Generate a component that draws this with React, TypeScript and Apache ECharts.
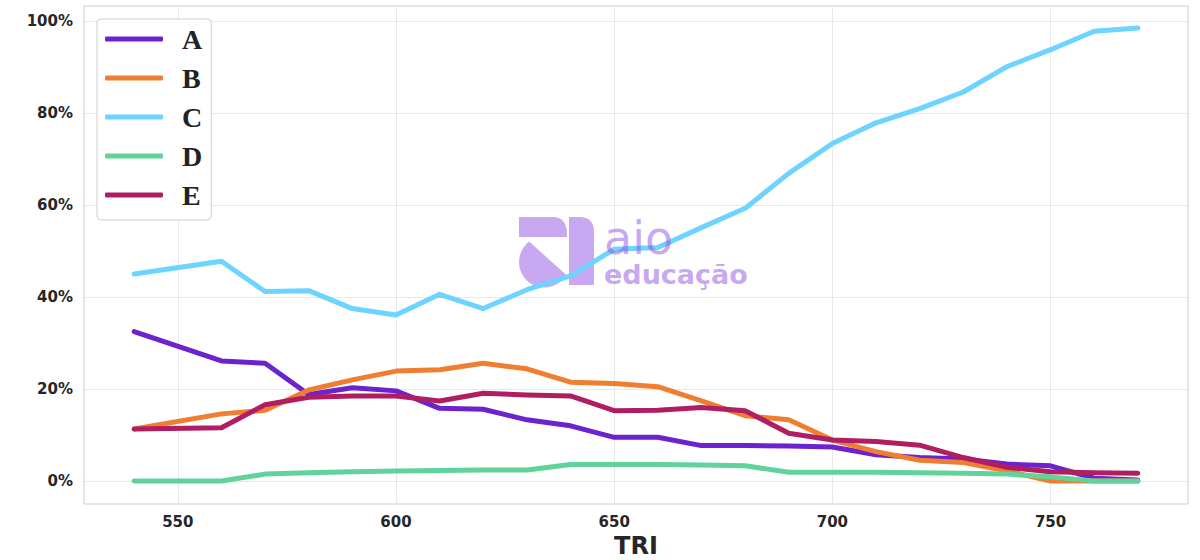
import React, { useEffect, useRef } from "react";
import * as echarts from "echarts";

const tri = [540, 560, 570, 580, 590, 600, 610, 620, 630, 640, 650, 660, 670, 680, 690, 700, 710, 720, 730, 740, 750, 760, 770];
const seriesA = [32.5, 26.1, 25.6, 18.8, 20.3, 19.6, 15.8, 15.6, 13.3, 12.0, 9.5, 9.5, 7.7, 7.7, 7.6, 7.4, 5.7, 5.1, 4.8, 3.7, 3.3, 0.6, 0.2];
const seriesB = [11.3, 14.6, 15.4, 19.8, 22.0, 23.9, 24.2, 25.6, 24.4, 21.5, 21.2, 20.5, 17.4, 14.2, 13.3, 8.9, 6.4, 4.5, 4.0, 2.2, 0.0, 0.0, 0.0];
const seriesC = [45.0, 47.8, 41.2, 41.4, 37.5, 36.1, 40.6, 37.5, 41.6, 44.6, 50.4, 50.8, 55.1, 59.3, 66.9, 73.4, 77.9, 81.0, 84.6, 90.1, 93.8, 97.8, 98.5];
const seriesD = [0.0, 0.0, 1.5, 1.8, 2.0, 2.2, 2.3, 2.4, 2.4, 3.6, 3.6, 3.6, 3.5, 3.3, 1.9, 1.9, 1.9, 1.8, 1.7, 1.5, 0.9, 0.0, 0.0];
const seriesE = [11.3, 11.6, 16.6, 18.2, 18.5, 18.5, 17.4, 19.1, 18.7, 18.5, 15.3, 15.4, 16.0, 15.3, 10.4, 8.9, 8.6, 7.8, 5.1, 3.0, 2.0, 1.8, 1.7];
const seriesNames = ["A", "B", "C", "D", "E"];
const xTicks = [550, 600, 650, 700, 750];
const yTicks = [0, 20, 40, 60, 80, 100];
const xLabel = "TRI";

const colors = ["#6C22CC", "#F07E31", "#6DD3FF", "#5FD39A", "#B01E62"];

const topPiece = "M0 0 L34 0 Q48 0 48 18 L48 20 L0 20 Z";
const barPiece = "M50 0 L60 0 Q75 0 75 15 L75 68 L50 68 Z";
const leafPiece =
  "M10.15 24.6 L47.4 58.1 C42.8 65.8 34.45 70.5 25.5 70.5 C11.4 70.5 0 59.1 0 45 C0 37 3.76 29.4 10.15 24.6 Z";

echarts.graphic.registerShape("aioTop", echarts.graphic.extendPath(topPiece, {}));
echarts.graphic.registerShape("aioBar", echarts.graphic.extendPath(barPiece, {}));
echarts.graphic.registerShape("aioLeaf", echarts.graphic.extendPath(leafPiece, {}));

const WM = "#8f51e3";

export default function App() {
  const ref = useRef<HTMLDivElement>(null);
  useEffect(() => {
    if (!ref.current) return;
    const chart = echarts.init(ref.current, undefined, { renderer: "svg" });
    const all = [seriesA, seriesB, seriesC, seriesD, seriesE];
    const wmStyle = { fill: WM, opacity: 0.5 };
    chart.setOption({
      animation: false,
      backgroundColor: "#ffffff",
      grid: {
        left: 84,
        right: 12,
        top: 6,
        bottom: 56,
        show: true,
        borderColor: "#cccccc",
        borderWidth: 1,
        backgroundColor: "transparent",
        outerBoundsMode: "none",
        containLabel: false,
      },
      legend: {
        left: 97,
        top: 19,
        orient: "vertical",
        icon: "roundRect",
        itemWidth: 58,
        itemHeight: 5,
        itemGap: 11,
        padding: [6, 9, 11, 8],
        backgroundColor: "#ffffff",
        borderColor: "#d0d0d0",
        borderWidth: 1,
        borderRadius: 4,
        textStyle: {
          fontFamily: "Liberation Serif",
          fontWeight: "bold",
          fontSize: 28,
          lineHeight: 26,
          color: "#222222",
          padding: [0, 0, 0, 14],
        },
        data: seriesNames,
      },
      xAxis: {
        type: "value",
        min: 528.5,
        max: 781.5,
        name: xLabel,
        nameLocation: "middle",
        nameGap: 30,
        nameTextStyle: {
          fontFamily: "DejaVu Sans",
          fontWeight: "bold",
          fontSize: 24,
          color: "#262626",
        },
        axisLine: { show: false },
        axisTick: { show: false, customValues: xTicks },
        axisLabel: {
          customValues: xTicks,
          margin: 10,
          fontFamily: "DejaVu Sans",
          fontWeight: "bold",
          fontSize: 15,
          color: "#262626",
        },
        splitLine: { show: true, lineStyle: { color: "#e8e8e8", width: 1 } },
      },
      yAxis: {
        type: "value",
        min: -5,
        max: 103.3,
        axisLine: { show: false },
        axisTick: { show: false, customValues: yTicks },
        axisLabel: {
          customValues: yTicks,
          margin: 11,
          formatter: "{value}%",
          fontFamily: "DejaVu Sans",
          fontWeight: "bold",
          fontSize: 15,
          color: "#262626",
        },
        splitLine: { show: true, lineStyle: { color: "#e8e8e8", width: 1 } },
      },
      series: seriesNames.map((n, i) => ({
        name: n,
        type: "line",
        showSymbol: false,
        symbol: "none",
        color: colors[i],
        lineStyle: { width: 5, color: colors[i], cap: "round", join: "round" },
        data: tri.map((x, j) => [x, all[i][j]]),
        z: 2 + i,
      })),
      graphic: [
        {
          type: "group",
          left: 519,
          top: 217,
          z: 100,
          children: [
            { type: "aioTop", x: 0, y: 0, style: wmStyle },
            { type: "aioBar", x: 0, y: 0, style: wmStyle },
            { type: "aioLeaf", x: 0, y: 0, style: wmStyle },
          ],
        },
        {
          type: "text",
          left: 604,
          top: 215,
          z: 100,
          style: {
            text: "{a|aio}\n{b|educação}",
            fill: WM,
            opacity: 0.5,
            rich: {
              a: {
                fontFamily: "DejaVu Sans",
                fontSize: 46,
                fontWeight: "normal",
                lineHeight: 46,
                fill: WM,
              },
              b: {
                fontFamily: "DejaVu Sans",
                fontSize: 27,
                fontWeight: "bold",
                lineHeight: 27,
                fill: WM,
              },
            },
          } as any,
        },
      ],
    });
    return () => chart.dispose();
  }, []);
  return (
    <div
      ref={ref}
      style={{ position: "fixed", left: 0, top: 0, width: 1200, height: 560 }}
    />
  );
}
